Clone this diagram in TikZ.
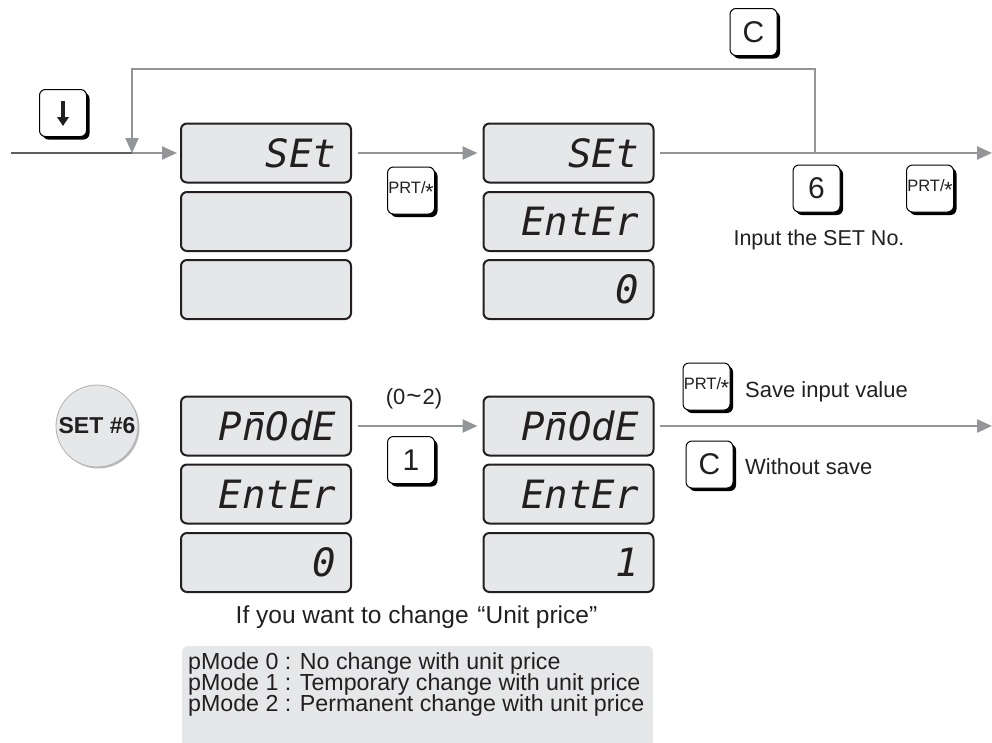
\documentclass[tikz,border=0pt]{standalone}
\usepackage{fontspec}
\setmainfont{Liberation Sans}
\newfontfamily\lcdfont{DejaVu Sans Mono}
\usetikzlibrary{arrows.meta,shadows}
\definecolor{lcdfill}{HTML}{E6E7E8}
\definecolor{lcdborder}{HTML}{231F20}
\definecolor{flowgray}{HTML}{939598}
\definecolor{indark}{HTML}{5E5F61}
\definecolor{inkc}{HTML}{231F20}
\tikzset{
  lcd/.style={draw=lcdborder, line width=2pt, fill=lcdfill, rounded corners=6pt,
    minimum width=170pt, minimum height=59pt, inner ysep=0pt, inner xsep=15pt,
    text width=140pt, align=right, text=inkc,
    font=\lcdfont\itshape\fontsize{39}{39}\selectfont},
  key/.style={draw=black, line width=1pt, fill=white, rounded corners=6pt,
    minimum width=47pt, minimum height=47pt, inner sep=0pt, text=inkc,
    drop shadow={shadow xshift=3pt, shadow yshift=-3pt, fill=black, opacity=1}},
  keybig/.style={key, font=\fontsize{30}{30}\selectfont},
  keysmall/.style={key, font=\fontsize{16.5}{16.5}\selectfont},
  flow/.style={draw=flowgray, line width=2.4pt},
  arr/.style={flow, -{Triangle[length=15pt,width=13pt]}},
  lbl/.style={text=inkc, inner sep=0pt}
}
\newcommand{\prtkey}{PRT/\kern-0.5pt{\fontsize{22}{22}\selectfont\raisebox{-0.28em}{*}}}
\newcommand{\nbar}{\rlap{\kern0.2em\rule[0.66em]{0.36em}{0.075em}}n}
\begin{document}
\begin{tikzpicture}[x=1pt,y=-1pt]
\useasboundingbox (0,0) rectangle (992,742);

% displays top
\node[lcd] (a1) at (266,153) {SEt};
\node[lcd] (a2) at (266,221.5) {};
\node[lcd] (a3) at (266,289.5) {};
\node[lcd] (b1) at (568.5,153) {SEt};
\node[lcd] (b2) at (568.5,221.5) {EntEr};
\node[lcd] (b3) at (568.5,289.5) {0};
% displays bottom
\node[lcd] (c1) at (266,426) {P\nbar OdE};
\node[lcd] (c2) at (266,494) {EntEr};
\node[lcd] (c3) at (266,562.5) {0};
\node[lcd] (d1) at (568.5,426) {P\nbar OdE};
\node[lcd] (d2) at (568.5,494) {EntEr};
\node[lcd] (d3) at (568.5,562.5) {1};

% keys
\node[key] (kdown) at (63,113) {};
\draw[line width=3.4pt, draw=inkc, -{Triangle[length=9pt,width=11.5pt]}]
  ([yshift=12pt]kdown.center) -- ([yshift=-13pt]kdown.center);
\node[keysmall] (kprt1) at (411,190.5) {\prtkey};
\node[keybig] (kc1) at (753.5,32) {C};
\node[keybig] (k6) at (816.5,188.5) {6};
\node[keysmall] (kprt2) at (930,188.5) {\prtkey};
\node[keybig] (k1) at (411,460) {1};
\node[keysmall] (kprt3) at (706.5,386.5) {\prtkey};
\node[keybig] (kc2) at (709.5,464.5) {C};

% SET #6 badge
\node[circle, fill=lcdfill, draw=gray!60, line width=0.8pt, minimum size=82pt,
  inner sep=0pt, text=inkc, font=\bfseries\fontsize{23}{23}\selectfont,
  drop shadow={shadow xshift=1.5pt, shadow yshift=-1.5pt, fill=gray!55, opacity=1}]
  (set6) at (97,426) {SET \#6};

% connectors top
\coordinate (inL) at (11,153);
\coordinate (jn) at (132,153);
\coordinate (topL) at (132,69);
\coordinate (topR) at (815,69);
\coordinate (br) at (815,153);
\coordinate (outT) at (992,153);
\draw[line width=2.4pt, draw=indark] (inL) -- (jn);
\draw[arr] (jn) -- ([xshift=-3pt]a1.west);
\draw[arr] (br) -- (topR) -- (topL) -- (jn);
\draw[arr] ([xshift=6pt]a1.east) -- ([xshift=-5pt]b1.west);
\draw[arr] ([xshift=5pt]b1.east) -- (outT);

% connectors bottom
\coordinate (outB) at (992,426);
\draw[arr] ([xshift=6pt]c1.east) -- ([xshift=-5pt]d1.west);
\draw[arr] ([xshift=5pt]d1.east) -- (outB);

% labels
\node[lbl, font=\fontsize{21.5}{21.5}\selectfont] (inputno) at (819,240) {Input the SET No.};
\node[lbl, anchor=west, font=\fontsize{22}{22}\selectfont] (save) at (745,392) {Save input value};
\node[lbl, anchor=west, font=\fontsize{22}{22}\selectfont] (wos) at (745,467) {Without save};
\node[lbl, font=\fontsize{22}{22}\selectfont] (range) at (414,399) {(0\kern1pt{\fontsize{26}{26}\selectfont\textasciitilde}\kern1pt2)};
\node[lbl, font=\fontsize{24.5}{24.5}\selectfont] (ifyou) at (416.5,617) {If you want to change\kern2pt{} “Unit price”};

% legend box
\path[fill=lcdfill, rounded corners=6pt] (182,646) rectangle (653,760);
\node[lbl, anchor=base west, font=\fontsize{23.2}{21}\selectfont] (m0) at (188,669) {pMode 0 : No change with unit price};
\node[lbl, anchor=base west, font=\fontsize{23.2}{21}\selectfont] (m1) at (188,690) {pMode 1 : Temporary change with unit price};
\node[lbl, anchor=base west, font=\fontsize{23.2}{21}\selectfont] (m2) at (188,711) {pMode 2 : Permanent change with unit price};
\end{tikzpicture}
\end{document}
